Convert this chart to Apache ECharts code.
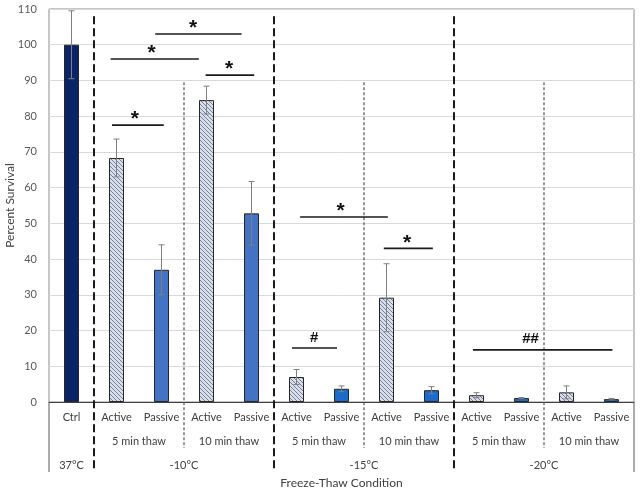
<!DOCTYPE html>
<html><head><meta charset="utf-8">
<script src="https://cdn.jsdelivr.net/npm/echarts@6/dist/echarts.min.js"></script>
<style>html,body{margin:0;padding:0;background:#fff}#c{width:640px;height:493px}</style>
</head><body><div id="c"></div>
<script>
const categories = ['Ctrl','Active','Passive','Active','Passive','Active','Passive','Active','Passive','Active','Passive','Active','Passive'];
const survival = [100, 68.3, 37, 84.5, 52.8, 7, 3.7, 29.2, 3.3, 1.9, 1.1, 2.7, 0.8];
const errorSD = [9.5, 5.3, 7, 3.9, 8.9, 2.1, 0.8, 9.5, 1.0, 0.7, 0.15, 1.8, 0.2];
const barGroup = ['ctrl','active','passive10','active','passive10','active','passive','active','passive','active','passive','active','passive'];
const thawLabels = [[1.5,'5 min thaw'],[3.5,'10 min thaw'],[5.5,'5 min thaw'],[7.5,'10 min thaw'],[9.5,'5 min thaw'],[11.5,'10 min thaw']];
const tempLabels = [[0,'37°C'],[2.5,'-10°C'],[6.5,'-15°C'],[10.5,'-20°C']];
// [from, to, level, label, labelAt]
const sigBrackets = [
  [0.9, 2.05, 77.5, '*', 1.41],
  [0.87, 2.83, 96, '*', 1.78],
  [1.86, 3.78, 103, '*', 2.7],
  [2.98, 4.06, 91.5, '*', 3.5],
  [5.08, 7.03, 51.8, '*', 5.98],
  [6.94, 8.03, 43, '*', 7.46],
  [4.9, 5.9, 15.1, '#', 5.39],
  [8.92, 12.02, 14.6, '##', 10.2]
];
const majorDividers = [0.5, 4.5, 8.5];
const minorDividers = [2.5, 6.5, 10.5];
const frameEdges = [-0.5, 12.5];

function hatch() {
  const c = document.createElement('canvas');
  c.width = 4; c.height = 4;
  const g = c.getContext('2d');
  g.fillStyle = '#d9dee9'; g.fillRect(0,0,4,4);
  g.strokeStyle = '#7483a4'; g.lineWidth = 1;
  g.beginPath();
  g.moveTo(-1,-1); g.lineTo(5,5);
  g.moveTo(-1,3); g.lineTo(1,5);
  g.moveTo(3,-1); g.lineTo(5,1);
  g.stroke();
  return c;
}
const hatchImg = hatch();
const colorMap = {
  ctrl: '#0b2467',
  active: {image: hatchImg, repeat: 'repeat'},
  passive10: '#4472c4',
  passive: '#1a6ccc'
};

const FONT = 'Lato';
const chart = echarts.init(document.getElementById('c'), null, {renderer: 'canvas'});

const dividerData = []
  .concat(majorDividers.map(x => [x, 108, 0]))
  .concat(minorDividers.map(x => [x, 89.5, 1]))
  .concat(frameEdges.map(x => [x, 110, 2]));

chart.setOption({
  animation: false,
  grid: {left: 49, right: 6, top: 9, bottom: 91, show: true, borderColor: '#8c8c8c', borderWidth: 1, containLabel: false, outerBoundsMode: 'none'},
  xAxis: [
    {type: 'category', data: categories, gridIndex: 0,
     axisLine: {show: true, lineStyle: {color: '#404040', width: 1}},
     axisTick: {show: false},
     axisLabel: {color: '#404040', fontSize: 11, fontFamily: FONT, margin: 10, interval: 0}},
    {type: 'value', min: -0.5, max: 12.5, show: false, gridIndex: 0},
    {type: 'value', min: -0.5, max: 12.5, interval: 0.5, position: 'bottom', offset: 24,
     axisLine: {show: false}, axisTick: {show: false}, splitLine: {show: false},
     axisLabel: {color: '#404040', fontSize: 11, fontFamily: FONT, margin: 10, showMinLabel: true, showMaxLabel: true,
       formatter: v => { const f = thawLabels.find(t => Math.abs(t[0]-v) < 1e-6); return f ? f[1] : ''; }}},
    {type: 'value', min: -0.5, max: 12.5, interval: 0.5, position: 'bottom', offset: 48,
     axisLine: {show: false}, axisTick: {show: false}, splitLine: {show: false},
     name: 'Freeze-Thaw Condition', nameLocation: 'middle', nameGap: 27, nameMoveOverlap: false,
     nameTextStyle: {color: '#404040', fontSize: 12, fontFamily: FONT},
     axisLabel: {color: '#404040', fontSize: 11, fontFamily: FONT, margin: 10, showMinLabel: true, showMaxLabel: true,
       formatter: v => { const f = tempLabels.find(t => Math.abs(t[0]-v) < 1e-6); return f ? f[1] : ''; }}}
  ],
  yAxis: {type: 'value', min: 0, max: 110, interval: 10,
    name: 'Percent Survival', nameLocation: 'middle', nameGap: 33, nameMoveOverlap: false,
    nameTextStyle: {color: '#404040', fontSize: 12, fontFamily: FONT},
    axisLine: {show: false}, axisTick: {show: false},
    axisLabel: {color: '#595959', fontSize: 11, fontFamily: FONT, margin: 12},
    splitLine: {lineStyle: {color: '#d9d9d9', width: 1}}},
  series: [
    {type: 'bar', xAxisIndex: 0, barWidth: 15, z: 2,
     data: survival.map((v, i) => ({value: v, itemStyle: {color: colorMap[barGroup[i]], borderColor: '#262626', borderWidth: 1}}))},
    {type: 'custom', xAxisIndex: 0, z: 5,
     data: survival.map((v, i) => [i, v, errorSD[i]]),
     encode: {x: 0, y: 1},
     renderItem: (params, api) => {
       const x = api.value(0), v = api.value(1), e = api.value(2);
       const t = api.coord([x, v + e]), b = api.coord([x, v - e]);
       const cw = 3;
       const st = {stroke: '#7f7f7f', lineWidth: 1};
       return {type: 'group', children: [
         {type: 'line', shape: {x1: t[0], y1: t[1], x2: b[0], y2: b[1]}, style: st},
         {type: 'line', shape: {x1: t[0]-cw, y1: t[1], x2: t[0]+cw, y2: t[1]}, style: st},
         {type: 'line', shape: {x1: b[0]-cw, y1: b[1], x2: b[0]+cw, y2: b[1]}, style: st}
       ]};
     }},
    {type: 'custom', xAxisIndex: 1, z: 4,
     data: dividerData, encode: {x: 0, y: 1},
     renderItem: (params, api) => {
       const x = api.value(0), top = api.value(1), kind = api.value(2);
       const p = api.coord([x, top]);
       const zero = api.coord([x, 0])[1];
       if (kind === 0) return {type: 'line', shape: {x1: p[0], y1: p[1], x2: p[0], y2: zero + 70}, style: {stroke: '#1a1a1a', lineWidth: 2, lineDash: [8, 4]}};
       if (kind === 1) return {type: 'line', shape: {x1: p[0], y1: p[1], x2: p[0], y2: zero + 46}, style: {stroke: '#555', lineWidth: 1.2, lineDash: [3, 2]}};
       return {type: 'line', shape: {x1: p[0], y1: zero, x2: p[0], y2: zero + 70}, style: {stroke: '#595959', lineWidth: 1}};
     }},
    {type: 'custom', xAxisIndex: 1, z: 6,
     data: sigBrackets.map(b => [b[0], b[2], b[1], b[4]]), encode: {x: [0, 2, 3], y: 1},
     renderItem: (params, api) => {
       const b = sigBrackets[params.dataIndex];
       const p1 = api.coord([b[0], b[2]]), p2 = api.coord([b[1], b[2]]), pl = api.coord([b[4], b[2]]);
       const star = b[3] === '*';
       return {type: 'group', children: [
         {type: 'line', shape: {x1: p1[0], y1: p1[1], x2: p2[0], y2: p2[1]}, style: {stroke: '#1a1a1a', lineWidth: 1.6}},
         {type: 'text', x: pl[0], y: pl[1] - (star ? 16 : 3),
          style: {text: b[3], fontSize: star ? 21 : 15, fontWeight: 'bold', fontFamily: 'Liberation Sans', fill: '#111', align: 'center', verticalAlign: star ? 'top' : 'bottom'}}
       ]};
     }}
  ]
});
</script></body></html>
